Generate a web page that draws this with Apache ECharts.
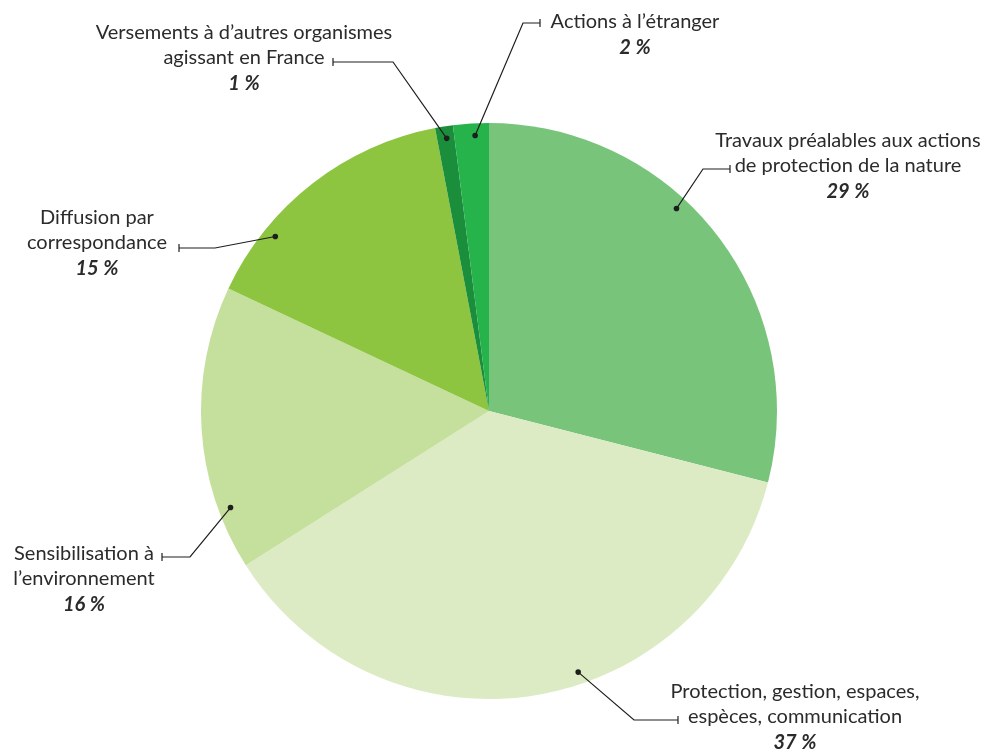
<!DOCTYPE html>
<html>
<head>
<meta charset="utf-8">
<script src="https://cdn.jsdelivr.net/npm/echarts@6/dist/echarts.min.js"></script>
<style>
  html, body { margin: 0; padding: 0; background: #ffffff; }
  #chart { width: 984px; height: 754px; }
</style>
</head>
<body>
<div id="chart"></div>
<script>
// Budget breakdown by spending category (share of total, %)
const categories = [
  'Travaux préalables aux actions\nde protection de la nature',
  'Protection, gestion, espaces,\nespèces, communication',
  'Sensibilisation à\nl’environnement',
  'Diffusion par\ncorrespondance',
  'Versements à d’autres organismes\nagissant en France',
  'Actions à l’étranger'
];
const shares = [29, 37, 16, 15, 1, 2];
const percentLabels = ['29\u202f%', '37\u202f%', '16\u202f%', '15\u202f%', '1\u202f%', '2\u202f%'];
const sliceColors = ['#78c47b', '#dcebc4', '#c5df9c', '#8dc540', '#1b8e3c', '#27b34b'];

// Label placement: centre of each text block, elbow and tick end of its leader,
// and where along its slice the leader's dot sits (0 = slice start, 1 = slice end)
const labelCentres = [[848, 167], [795, 718], [84, 580], [97, 244], [244, 59], [635, 35]];
const leaderElbows = [[703, 169], [634, 720], [190, 557], [215, 248], [393, 62], [523, 23]];
const leaderEnds   = [[730, 169], [678, 720], [162, 557], [179, 248], [333, 62], [540, 23]];
const anchorAlong  = [0.41, 0.426, 0.207, 0.26, 0.55, 0.6];

const CX = 489, CY = 411, R = 288;
const ANCHOR_R = R * 0.958;
const TICK = 4;
const INK = '#1e1e1e';
const total = shares.reduce((a, b) => a + b, 0);

// Point inside a slice, measured clockwise from 12 o'clock like the pie itself
function anchorPoint(i) {
  const before = shares.slice(0, i).reduce((a, b) => a + b, 0);
  const ang = (before + anchorAlong[i] * shares[i]) / total * 2 * Math.PI;
  return [CX + ANCHOR_R * Math.sin(ang), CY - ANCHOR_R * Math.cos(ang)];
}

// Leader lines: dot in the slice, elbow, horizontal run ending in a small bar
const leaderGraphics = [];
shares.forEach((v, i) => {
  const a = anchorPoint(i);
  const e = leaderElbows[i];
  const t = leaderEnds[i];
  leaderGraphics.push({
    type: 'polyline', z: 100, silent: true,
    shape: { points: [a, e, t] },
    style: { stroke: INK, lineWidth: 1.2, fill: null }
  });
  leaderGraphics.push({
    type: 'line', z: 100, silent: true,
    shape: { x1: t[0], y1: t[1] - TICK, x2: t[0], y2: t[1] + TICK },
    style: { stroke: INK, lineWidth: 1.2 }
  });
  leaderGraphics.push({
    type: 'circle', z: 101, silent: true,
    shape: { cx: a[0], cy: a[1], r: 2.8 },
    style: { fill: INK }
  });
});

const chart = echarts.init(document.getElementById('chart'), null, { renderer: 'canvas' });

const textFont = 'Lato, "Open Sans", "Noto Sans", sans-serif';

chart.setOption({
  animation: false,
  backgroundColor: '#ffffff',
  graphic: leaderGraphics,
  series: [{
    type: 'pie',
    center: [CX, CY],
    radius: R,
    startAngle: 90,
    clockwise: true,
    avoidLabelOverlap: false,
    silent: true,
    data: categories.map((name, i) => ({
      name: name,
      value: shares[i],
      itemStyle: { color: sliceColors[i] }
    })),
    itemStyle: { borderWidth: 0 },
    label: {
      show: true,
      position: 'outside',
      align: 'center',
      color: '#2b2b2b',
      fontFamily: textFont,
      formatter: (p) => {
        const lines = p.name.split('\n').map(l => '{n|' + l + '}');
        return lines.join('\n') + '\n{p|' + percentLabels[p.dataIndex] + '}';
      },
      rich: {
        n: { fontSize: 20, lineHeight: 25, color: '#2b2b2b', fontFamily: textFont, align: 'center' },
        p: { fontSize: 20, lineHeight: 27, color: '#2b2b2b', fontFamily: textFont, fontWeight: 'bold', fontStyle: 'italic', align: 'center' }
      }
    },
    labelLine: { show: false },
    labelLayout: (params) => {
      const i = params.dataIndex;
      return {
        x: labelCentres[i][0],
        y: labelCentres[i][1],
        align: 'center',
        verticalAlign: 'middle'
      };
    }
  }]
});
</script>
</body>
</html>
